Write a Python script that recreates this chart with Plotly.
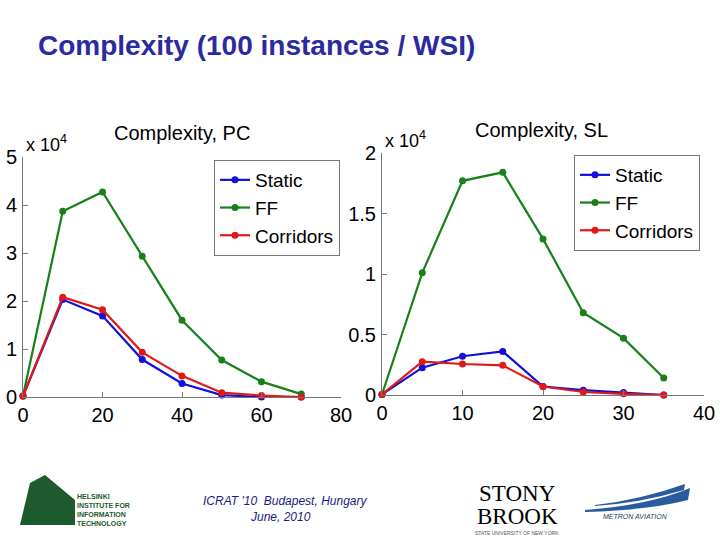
import plotly.graph_objects as go

# ---- data (values in units of 10^4) ----
pc_x = [0, 10, 20, 30, 40, 50, 60, 70]
pc_static = [0.02, 2.03, 1.69, 0.78, 0.28, 0.04, 0.00, 0.00]
pc_ff = [0.02, 3.87, 4.27, 2.93, 1.60, 0.77, 0.32, 0.06]
pc_corr = [0.02, 2.08, 1.82, 0.93, 0.44, 0.09, 0.03, 0.00]

sl_x = [0, 5, 10, 15, 20, 25, 30, 35]
sl_static = [0.005, 0.226, 0.32, 0.36, 0.07, 0.04, 0.02, 0.0]
sl_ff = [0.005, 1.01, 1.77, 1.84, 1.29, 0.68, 0.47, 0.14]
sl_corr = [0.005, 0.275, 0.256, 0.245, 0.07, 0.025, 0.01, 0.0]

series_names = ["Static", "FF", "Corridors"]
colors = ["#1010d8", "#17801a", "#e01818"]

pc_ticks_x = [0, 20, 40, 60, 80]
pc_ticks_y = [0, 1, 2, 3, 4, 5]
sl_ticks_x = [0, 10, 20, 30, 40]
sl_ticks_y = [0, 0.5, 1, 1.5, 2]
sl_ticktext_y = ["0", "0.5", "1", "1.5", "2"]

FONT = "Arial, Liberation Sans, sans-serif"

fig = go.Figure()
for name, ys, c in zip(series_names, [pc_static, pc_ff, pc_corr], colors):
    fig.add_trace(go.Scatter(x=pc_x, y=ys, name=name, mode="lines+markers",
                             line=dict(color=c, width=2.2), marker=dict(color=c, size=7),
                             xaxis="x", yaxis="y", legend="legend", cliponaxis=False))
for name, ys, c in zip(series_names, [sl_static, sl_ff, sl_corr], colors):
    fig.add_trace(go.Scatter(x=sl_x, y=ys, name=name, mode="lines+markers",
                             line=dict(color=c, width=2.2), marker=dict(color=c, size=7),
                             xaxis="x2", yaxis="y2", legend="legend2", cliponaxis=False))

axis_common = dict(showline=True, linecolor="#777777", linewidth=1, ticks="inside",
                   ticklen=5, tickcolor="#777777", showgrid=False, zeroline=False,
                   tickfont=dict(family=FONT, size=20, color="black"), mirror=False,
                   automargin=False)

fig.update_layout(
    width=720, height=540,
    margin=dict(l=0, r=0, t=0, b=0, autoexpand=False),
    paper_bgcolor="white", plot_bgcolor="white",
    font=dict(family=FONT),
    xaxis=dict(domain=[23/720, 341/720], range=[0, 80], tickvals=pc_ticks_x, anchor="y", **axis_common),
    yaxis=dict(domain=[1-397/540, 1-157/540], range=[0, 5], tickvals=pc_ticks_y, anchor="x", ticklabelstandoff=1, **axis_common),
    xaxis2=dict(domain=[382/720, 704/720], range=[0, 40], tickvals=sl_ticks_x, anchor="y2", **axis_common),
    yaxis2=dict(domain=[1-395/540, 1-153/540], range=[0, 2], tickvals=sl_ticks_y, ticktext=sl_ticktext_y,
                anchor="x2", ticklabelstandoff=1, **axis_common),
    legend=dict(x=340/720, y=1-160/540, xanchor="right", yanchor="top", bgcolor="white",
                bordercolor="#777777", borderwidth=1, font=dict(family=FONT, size=19, color="black"),
                tracegroupgap=0, itemwidth=30),
    legend2=dict(x=700/720, y=1-155/540, xanchor="right", yanchor="top", bgcolor="white",
                 bordercolor="#777777", borderwidth=1, font=dict(family=FONT, size=19, color="black"),
                 tracegroupgap=0, itemwidth=30),
    showlegend=True,
)

ann = []
ann.append(dict(text="<b>Complexity (100 instances / WSI)</b>", x=36/720, y=1-46/540, xref="paper", yref="paper",
                xanchor="left", yanchor="middle", showarrow=False,
                font=dict(family=FONT, size=28, color="#2b2ba0")))
ann.append(dict(text="Complexity, PC", x=182/720, y=1-133/540, xref="paper", yref="paper",
                xanchor="center", yanchor="middle", showarrow=False,
                font=dict(family=FONT, size=20, color="black")))
ann.append(dict(text="Complexity, SL", x=541/720, y=1-130/540, xref="paper", yref="paper",
                xanchor="center", yanchor="middle", showarrow=False,
                font=dict(family=FONT, size=20, color="black")))
ann.append(dict(text="x 10<sup>4</sup>", x=24/720, y=1-143/540, xref="paper", yref="paper",
                xanchor="left", yanchor="middle", showarrow=False,
                font=dict(family=FONT, size=18, color="black")))
ann.append(dict(text="x 10<sup>4</sup>", x=383/720, y=1-139/540, xref="paper", yref="paper",
                xanchor="left", yanchor="middle", showarrow=False,
                font=dict(family=FONT, size=18, color="black")))
# footer
ann.append(dict(text="<i>ICRAT '10  Budapest, Hungary</i>", x=285/720, y=1-501/540, xref="paper", yref="paper",
                xanchor="center", yanchor="middle", showarrow=False,
                font=dict(family=FONT, size=12, color="#1a1a80")))
ann.append(dict(text="<i>June, 2010</i>", x=280/720, y=1-517/540, xref="paper", yref="paper",
                xanchor="center", yanchor="middle", showarrow=False,
                font=dict(family=FONT, size=12, color="#1a1a80")))
ann.append(dict(text="<b>HELSINKI<br>INSTITUTE FOR<br>INFORMATION<br>TECHNOLOGY</b>", x=75/720, y=1-510/540,
                xref="paper", yref="paper", xanchor="left", yanchor="middle", showarrow=False, align="left",
                font=dict(family=FONT, size=7, color="#1d5a2e")))
ann.append(dict(text="STONY", x=517/720, y=1-493/540, xref="paper", yref="paper",
                xanchor="center", yanchor="middle", showarrow=False,
                font=dict(family="Liberation Serif, serif", size=23, color="black")))
ann.append(dict(text="BROOK", x=517/720, y=1-516/540, xref="paper", yref="paper",
                xanchor="center", yanchor="middle", showarrow=False,
                font=dict(family="Liberation Serif, serif", size=23, color="black")))
ann.append(dict(text="STATE UNIVERSITY OF NEW YORK", x=517/720, y=1-533/540, xref="paper", yref="paper",
                xanchor="center", yanchor="middle", showarrow=False,
                font=dict(family=FONT, size=5, color="#555555")))
ann.append(dict(text="<i>METRON AVIATION</i>", x=635/720, y=1-516/540, xref="paper", yref="paper",
                xanchor="center", yanchor="middle", showarrow=False,
                font=dict(family=FONT, size=7, color="#1a3a6a")))
fig.update_layout(annotations=ann)

shapes = []
# Helsinki logo block
shapes.append(dict(type="path", xref="paper", yref="paper",
                   path=f"M {20/720} {1-525/540} L {30/720} {1-483/540} L {45/720} {1-475/540} L {75/720} {1-500/540} L {75/720} {1-525/540} Z",
                   fillcolor="#1d5a2e", line=dict(width=0)))
# Metron swoosh
shapes.append(dict(type="path", xref="paper", yref="paper",
                   path=f"M {585/720} {1-510/540} Q {650/720} {1-505/540} {690/720} {1-488/540} L {688/720} {1-500/540} Q {650/720} {1-510/540} {585/720} {1-512/540} Z",
                   fillcolor="#2a5aa0", line=dict(width=0)))
shapes.append(dict(type="path", xref="paper", yref="paper",
                   path=f"M {595/720} {1-505/540} Q {640/720} {1-500/540} {685/720} {1-484/540} L {684/720} {1-490/540} Q {640/720} {1-503/540} {595/720} {1-506/540} Z",
                   fillcolor="#2a5aa0", line=dict(width=0)))
fig.update_layout(shapes=shapes)

fig.write_html("out.html", config={"displayModeBar": False},
               post_script="document.body.style.margin='0';document.body.style.overflow='hidden';")
